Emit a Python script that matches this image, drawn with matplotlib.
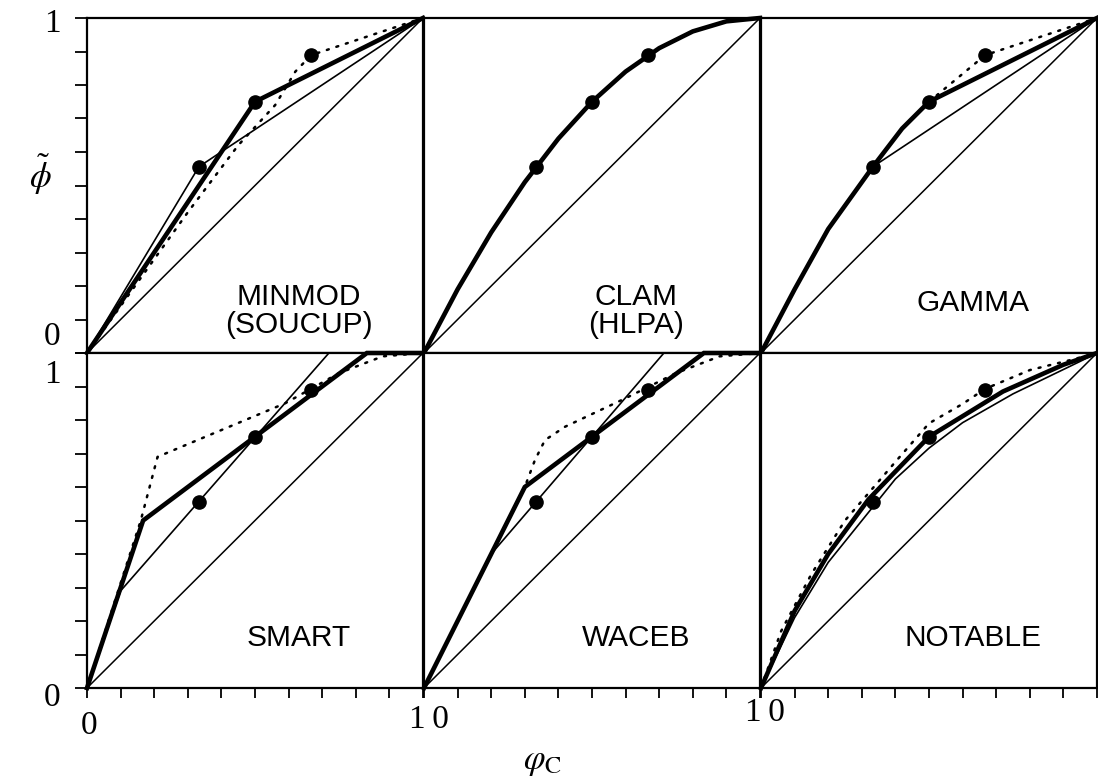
import numpy as np
import matplotlib
matplotlib.use("Agg")
import matplotlib.pyplot as plt

plt.rcParams['font.family'] = ['Liberation Serif', 'DejaVu Serif']
plt.rcParams['mathtext.fontset'] = 'stix'

# panel names, in reading order
names = ["MINMOD\n(SOUCUP)", "CLAM\n(HLPA)", "GAMMA", "SMART", "WACEB", "NOTABLE"]

# the three reference points, same in every panel
dot_x = [0.333, 0.5, 0.667]
dot_y = [0.556, 0.75, 0.889]

# thick line (scheme itself)
thick_x = [
    [0, 0.5, 1],
    [0, 0.1, 0.2, 0.3, 0.4, 0.5, 0.6, 0.7, 0.8, 0.9, 1],
    [0, 0.1, 0.2, 0.333, 0.42, 0.5, 1],
    [0, 0.167, 0.833, 1],
    [0, 0.3, 0.833, 1],
    [0, 0.1, 0.2, 0.32, 0.5, 0.72, 0.9, 1],
]
thick_y = [
    [0, 0.75, 1],
    [0, 0.19, 0.36, 0.51, 0.64, 0.75, 0.84, 0.91, 0.96, 0.99, 1],
    [0, 0.19, 0.37, 0.556, 0.67, 0.75, 1],
    [0, 0.5, 1, 1],
    [0, 0.6, 1, 1],
    [0, 0.23, 0.40, 0.563, 0.75, 0.885, 0.965, 1],
]

# thin line (second variant), None where absent
thin_x = [
    [0, 0.333, 1],
    None,
    [0.333, 1],
    [0, 0.1, 0.72, 1],
    [0, 0.2, 0.714, 1],
    [0, 0.1, 0.2, 0.4, 0.5, 0.6, 0.75, 0.95, 1],
]
thin_y = [
    [0, 0.556, 1],
    None,
    [0.556, 1],
    [0, 0.29, 1, 1],
    [0, 0.4, 1, 1],
    [0, 0.21, 0.375, 0.624, 0.716, 0.792, 0.878, 0.975, 1],
]

# dotted line
dotted_x = [
    [0, 0.15, 0.3, 0.45, 0.56, 0.62, 0.667, 1],
    None,
    [0.5, 0.667, 1],
    [0, 0.16, 0.21, 0.59, 0.75, 0.88, 1],
    [0, 0.3, 0.33, 0.36, 0.42, 0.6, 0.75, 0.88, 1],
    [0, 0.06, 0.15, 0.25, 0.4, 0.5, 0.6, 0.667, 0.8, 0.925, 1],
]
dotted_y = [
    [0, 0.21, 0.42, 0.62, 0.74, 0.84, 0.889, 1],
    None,
    [0.75, 0.889, 1],
    [0, 0.5, 0.69, 0.85, 0.94, 0.99, 1],
    [0, 0.6, 0.68, 0.74, 0.78, 0.865, 0.94, 0.99, 1],
    [0, 0.17, 0.34, 0.5, 0.675, 0.79, 0.848, 0.893, 0.949, 0.98, 1],
]

W, H = 1098, 781
fig = plt.figure(figsize=(W / 100, H / 100), dpi=100)

col_left = [87, 424, 761]
col_w = 336
row_top = [18, 353]
row_h = 335

ticks = np.linspace(0, 1, 11)
for i in range(6):
    r, c = divmod(i, 3)
    x0 = col_left[c]
    y1 = row_top[r] + row_h
    ax = fig.add_axes([x0 / W, 1 - y1 / H, col_w / W, row_h / H])
    ax.set_xlim(0, 1)
    ax.set_ylim(0, 1)
    for s in ax.spines.values():
        s.set_linewidth(1.6)

    ax.plot([0, 1], [0, 1], color="black", lw=1.1, clip_on=False)
    if thin_x[i] is not None:
        ax.plot(thin_x[i], thin_y[i], color="black", lw=1.2, clip_on=False)
    if dotted_x[i] is not None:
        ax.plot(dotted_x[i], dotted_y[i], color="black", lw=1.8,
                linestyle=(0, (0.8, 3.2)), dash_capstyle="round", clip_on=False)
    ax.plot(thick_x[i], thick_y[i], color="black", lw=3.3, solid_joinstyle="miter",
            clip_on=False)
    ax.plot(dot_x, dot_y, "o", color="black", ms=9.5, clip_on=False)

    two_line = "\n" in names[i]
    ax.text(0.63, 0.125 if two_line else 0.15, names[i], transform=ax.transAxes,
            ha="center", va="center", fontsize=21.5, family="Liberation Sans",
            linespacing=0.98)

    ax.tick_params(direction="out", width=1.3, labelleft=False, labelbottom=False)
    if c == 0:
        ax.set_yticks(ticks)
        ax.tick_params(axis="y", length=9)
    else:
        ax.set_yticks([])
    if r == 1:
        ax.set_xticks(ticks)
        ax.tick_params(axis="x", length=7)
    else:
        ax.set_xticks([])

# axis numbers, placed as in the scanned figure
fs = 24
fig.text(52 / W, 1 - 24 / H, "1", fontsize=fs, ha="center", va="center")
fig.text(52 / W, 1 - 337 / H, "0", fontsize=fs, ha="center", va="center")
fig.text(52 / W, 1 - 375 / H, "1", fontsize=fs, ha="center", va="center")
fig.text(52 / W, 1 - 698 / H, "0", fontsize=fs, ha="center", va="center")
fig.text(89 / W, 1 - 726 / H, "0", fontsize=fs, ha="center", va="center")
fig.text(429 / W, 1 - 720 / H, "1\u20090", fontsize=fs, ha="center", va="center")
fig.text(765 / W, 1 - 713 / H, "1\u20090", fontsize=fs, ha="center", va="center")

fig.text(40 / W, 1 - 175 / H, r"$\tilde{\phi}$", fontsize=25, ha="center", va="center")
fig.text(542 / W, 1 - 762 / H, r"$\varphi_{\mathrm{C}}$", fontsize=25, ha="center", va="center")

fig.savefig("out.png", dpi=100, facecolor="white")
